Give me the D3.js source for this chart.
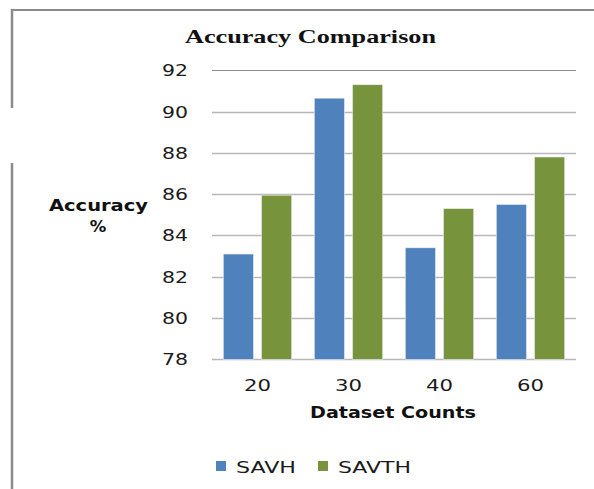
<!DOCTYPE html>
<html>
<head>
<meta charset="utf-8">
<script src="https://cdn.jsdelivr.net/npm/d3@7"></script>
<style>
  html, body { margin: 0; padding: 0; background: #fff; }
  svg { display: block; }
</style>
</head>
<body>
<div id="chart"></div>
<script>
// ---- data ----
const categories = ["20", "30", "40", "60"];
const seriesNames = ["SAVH", "SAVTH"];
const savh  = [83.1, 90.65, 83.4, 85.5];
const savth = [85.95, 91.3, 85.3, 87.8];
const yTicks = [78, 80, 82, 84, 86, 88, 90, 92];
const colors = ["#4F81BD", "#77933C"];

const W = 594, H = 489;
const svg = d3.select("#chart").append("svg").attr("width", W).attr("height", H);

// frame lines
svg.append("line").attr("x1", 11).attr("x2", 594).attr("y1", 10).attr("y2", 10)
  .attr("stroke", "#8a8a8a").attr("stroke-width", 2);
svg.append("line").attr("x1", 12).attr("x2", 12).attr("y1", 9).attr("y2", 108)
  .attr("stroke", "#8a8a8a").attr("stroke-width", 2.5);
svg.append("line").attr("x1", 12).attr("x2", 12).attr("y1", 163).attr("y2", 489)
  .attr("stroke", "#8a8a8a").attr("stroke-width", 2.5);

const plot = { left: 212, right: 576, top: 70.3, bottom: 359.3 };

const y = d3.scaleLinear().domain([78, 92]).range([plot.bottom, plot.top]);
const x0 = d3.scaleBand().domain(categories).range([plot.left, plot.right]).padding(0);
const x1 = d3.scaleBand().domain(seriesNames)
  .range([x0.bandwidth() * 0.124, x0.bandwidth() * 0.876]).paddingInner(0.21).paddingOuter(0);

// gridlines
svg.append("g").selectAll("line").data(yTicks).join("line")
  .attr("x1", plot.left).attr("x2", plot.right)
  .attr("y1", d => Math.round(y(d)) + 0.5).attr("y2", d => Math.round(y(d)) + 0.5)
  .attr("stroke", d => d === 92 ? "#8c8c8c" : "#b8b8b8")
  .attr("stroke-width", d => d === 92 ? 1 : 1.6);

const tickFont = "DejaVu Sans, sans-serif";

// y tick labels
svg.append("g").selectAll("text").data(yTicks).join("text")
  .attr("x", 188).attr("y", d => y(d))
  .attr("dy", "0.36em")
  .attr("text-anchor", "end")
  .attr("font-family", tickFont)
  .attr("font-size", 16.5)
  .attr("fill", "#1a1a1a")
  .attr("textLength", 26).attr("lengthAdjust", "spacingAndGlyphs")
  .text(d => d);

// bars
const data = categories.map((c, i) => ({ cat: c, values: [savh[i], savth[i]] }));
const groups = svg.append("g").selectAll("g").data(data).join("g")
  .attr("transform", d => `translate(${x0(d.cat)},0)`);
groups.selectAll("rect").data(d => d.values.map((v, j) => ({ s: seriesNames[j], v, j })))
  .join("rect")
  .attr("x", d => x1(d.s))
  .attr("width", x1.bandwidth())
  .attr("y", d => y(d.v))
  .attr("height", d => y(78) - y(d.v))
  .attr("fill", d => colors[d.j])
  .attr("stroke", "#e8eef6").attr("stroke-width", 0.6);

// x tick labels
svg.append("g").selectAll("text").data(categories).join("text")
  .attr("x", d => x0(d) + x0.bandwidth() / 2)
  .attr("y", 391)
  .attr("text-anchor", "middle")
  .attr("font-family", tickFont)
  .attr("font-size", 16.5)
  .attr("fill", "#1a1a1a")
  .attr("textLength", 27).attr("lengthAdjust", "spacingAndGlyphs")
  .text(d => d);

// title
svg.append("text")
  .attr("x", 185).attr("y", 43)
  .attr("font-family", "Liberation Serif, Times New Roman, serif")
  .attr("font-weight", "bold")
  .attr("font-size", 19)
  .attr("fill", "#111")
  .attr("textLength", 251).attr("lengthAdjust", "spacingAndGlyphs")
  .text("Accuracy Comparison");

// y axis title
svg.append("text")
  .attr("x", 49).attr("y", 211)
  .attr("font-family", "DejaVu Sans, sans-serif")
  .attr("font-weight", "bold").attr("font-size", 16.5)
  .attr("fill", "#111")
  .attr("textLength", 99).attr("lengthAdjust", "spacingAndGlyphs")
  .text("Accuracy");
svg.append("text")
  .attr("x", 98).attr("y", 232)
  .attr("text-anchor", "middle")
  .attr("font-family", "DejaVu Sans, sans-serif")
  .attr("font-weight", "bold").attr("font-size", 16.5)
  .attr("fill", "#111")
  .text("%");

// x axis title
svg.append("text")
  .attr("x", 310).attr("y", 418)
  .attr("font-family", "DejaVu Sans, sans-serif")
  .attr("font-weight", "bold").attr("font-size", 16.5)
  .attr("fill", "#111")
  .attr("textLength", 166).attr("lengthAdjust", "spacingAndGlyphs")
  .text("Dataset Counts");

// legend
const legendX = [216, 318];
const legendW = [60, 73];
const lg = svg.append("g").selectAll("g").data(seriesNames).join("g")
  .attr("transform", (d, i) => `translate(${legendX[i]},0)`);
lg.append("rect").attr("x", 0).attr("y", 461).attr("width", 10).attr("height", 10)
  .attr("fill", (d, i) => colors[i]);
lg.append("text").attr("x", 20).attr("y", 472.5)
  .attr("font-family", tickFont)
  .attr("font-size", 16.5)
  .attr("fill", "#1a1a1a")
  .attr("textLength", (d, i) => legendW[i]).attr("lengthAdjust", "spacingAndGlyphs")
  .text(d => d);
</script>
</body>
</html>
